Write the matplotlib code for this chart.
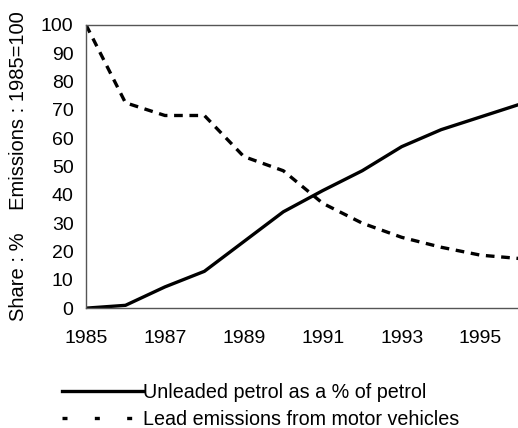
import matplotlib
matplotlib.use("Agg")
from matplotlib import pyplot as plt
from matplotlib.lines import Line2D

plt.rcParams['font.family'] = ['Liberation Sans', 'DejaVu Sans']

#%% DATA
years = [1985, 1986, 1987, 1988, 1989, 1990, 1991, 1992, 1993, 1994, 1995, 1996]
unleaded_share = [0, 1, 7.5, 13, 23.5, 34, 41.5, 48.5, 57, 63, 67.5, 72]
lead_emissions = [100, 72.5, 68, 68, 53.5, 48.5, 37, 30, 25, 21.5, 18.7, 17.5]
x_ticks = [1985, 1987, 1989, 1991, 1993, 1995]
y_ticks = [0, 10, 20, 30, 40, 50, 60, 70, 80, 90, 100]
label_solid = "Unleaded petrol as a % of petrol"
label_dashed = "Lead emissions from motor vehicles"
y_title = "Share : %    Emissions : 1985=100"

#%% PLOT
fig = plt.figure(figsize=(5.18, 4.28), dpi=100)
ax = fig.add_axes([0.166, 0.28, 0.838, 0.662])

ax.plot(years, unleaded_share, color='black', lw=2.4, solid_capstyle='butt')
ax.plot(years, lead_emissions, color='black', lw=2.4, dashes=(2.6, 2.0))

ax.set_xlim(1985, 1996)
ax.set_ylim(0, 100)
ax.set_xticks(x_ticks)
ax.set_yticks(y_ticks)
ax.tick_params(length=0, labelsize=14, pad=9)
ax.tick_params(axis='x', pad=16)
ax.set_ylabel(y_title, fontsize=14.5, labelpad=9)

for side in ['left', 'top', 'bottom']:
    ax.spines[side].set_color('#555555')
    ax.spines[side].set_linewidth(1.0)
ax.spines['right'].set_visible(False)

# legend below the chart
handles = [Line2D([], [], color='black', lw=2.4),
           Line2D([], [], color='black', lw=2.4, dashes=(1.5, 8.2))]
fig.legend(handles, [label_solid, label_dashed], loc='upper left',
           bbox_to_anchor=(0.12, 0.105), frameon=False, fontsize=14.2,
           handlelength=4.1, handletextpad=0.0, labelspacing=0.4,
           borderpad=0, borderaxespad=0)

plt.savefig('out.png', dpi=100)
